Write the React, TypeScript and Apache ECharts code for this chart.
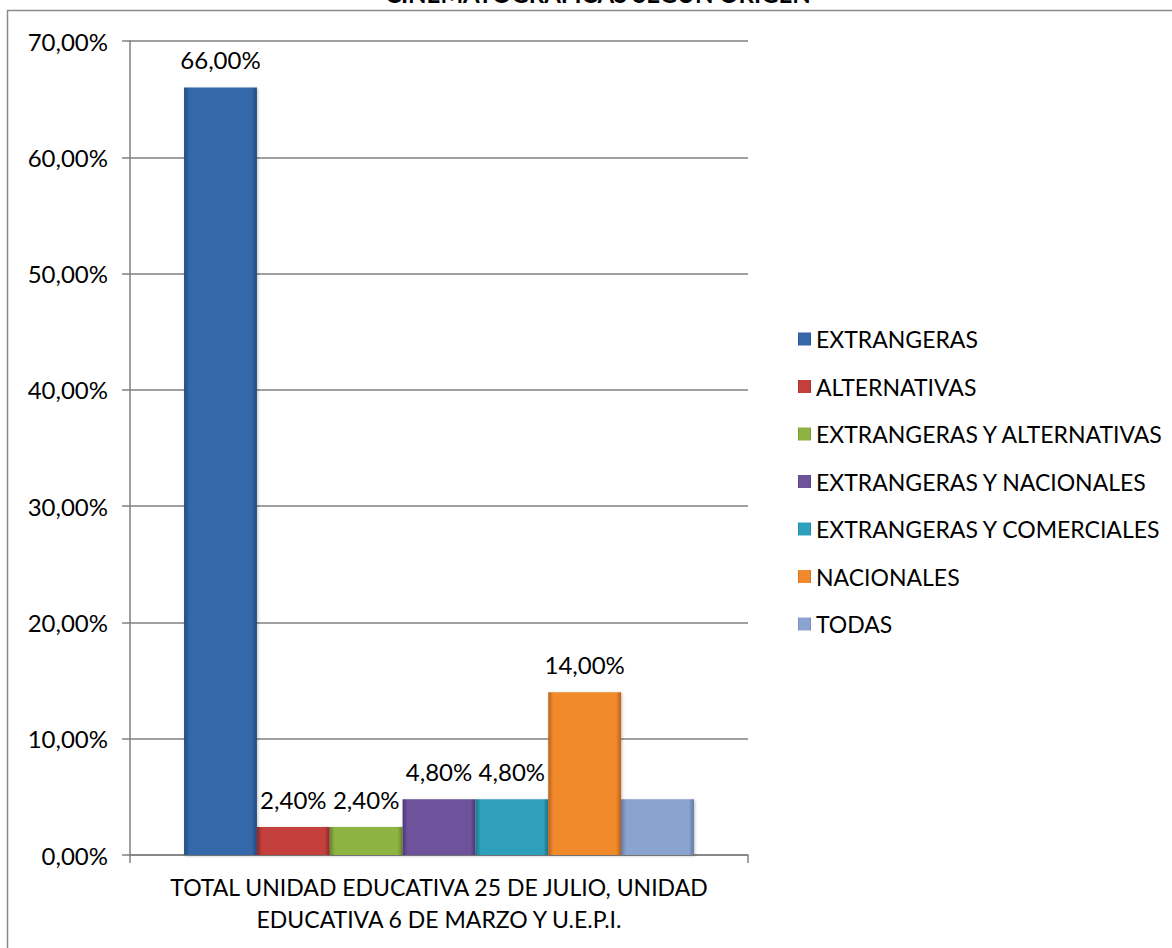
import React, { useEffect, useRef } from "react";
import * as echarts from "echarts";

const categories = ["TOTAL UNIDAD EDUCATIVA 25 DE JULIO, UNIDAD\nEDUCATIVA 6 DE MARZO Y U.E.P.I."];
const seriesNames = [
  "EXTRANGERAS",
  "ALTERNATIVAS",
  "EXTRANGERAS Y ALTERNATIVAS",
  "EXTRANGERAS Y NACIONALES",
  "EXTRANGERAS Y COMERCIALES",
  "NACIONALES",
  "TODAS",
];
const seriesValues = [66.0, 2.4, 2.4, 4.8, 4.8, 14.0, 4.8];
const showLabel = [true, true, true, true, true, true, false];
const baseColors = ["#3567A9", "#C33F3C", "#8DB443", "#6E539C", "#2FA0BC", "#F08A2C", "#8AA3CF"];
const edgeColors = ["#23497C", "#8E2725", "#65842B", "#4D3773", "#1E7389", "#B8611A", "#6279A3"];
const yTicks = [0, 10, 20, 30, 40, 50, 60, 70];
const titleText = "CINEMATOGRAFICAS SEGÚN ORIGEN";

const FONT = "Lato, 'Open Sans', sans-serif";
const fmt = (v: number) => v.toFixed(2).replace(".", ",") + "%";

export default function App() {
  const ref = useRef<HTMLDivElement>(null);
  useEffect(() => {
    if (!ref.current) return;
    const chart = echarts.init(ref.current, undefined, { renderer: "svg" });
    const series = seriesNames.map((name, i) => ({
      name,
      type: "bar",
      barGap: "0%",
      barCategoryGap: "17.5%",
      data: [seriesValues[i]],
      itemStyle: {
        color: new echarts.graphic.LinearGradient(0, 0, 1, 0, [
          { offset: 0, color: edgeColors[i] },
          { offset: 0.07, color: baseColors[i] },
          { offset: 0.93, color: baseColors[i] },
          { offset: 1, color: edgeColors[i] },
        ]),
        shadowColor: "rgba(0,0,0,0.25)",
        shadowBlur: 3,
        shadowOffsetX: 1,
        shadowOffsetY: 1,
      },
      label: {
        show: showLabel[i],
        position: "top",
        distance: 16,
        formatter: (p: any) => fmt(p.value),
        color: "#000",
        fontFamily: FONT,
        fontSize: 24,
      },
    }));
    chart.setOption({
      animation: false,
      backgroundColor: "#fff",
      grid: { left: 130, right: 424, top: 41, bottom: 93, containLabel: false },
      legend: {
        orient: "vertical",
        left: 793,
        top: 322,
        itemWidth: 13,
        itemHeight: 13,
        itemGap: 23.5,
        icon: "rect",
        textStyle: { fontFamily: FONT, fontSize: 23, color: "#000", lineHeight: 24 },
        data: seriesNames,
      },
      xAxis: {
        type: "category",
        data: categories,
        axisLine: { lineStyle: { color: "#808080", width: 1.5 } },
        axisTick: { show: true, length: 8, lineStyle: { color: "#808080", width: 1.5 } },
        axisLabel: {
          color: "#000",
          fontFamily: FONT,
          fontSize: 23,
          lineHeight: 32,
          margin: 16,
        },
      },
      yAxis: {
        type: "value",
        min: 0,
        max: 70,
        interval: 10,
        axisLine: { show: true, lineStyle: { color: "#808080", width: 1.5 } },
        axisTick: { show: true, length: 8, lineStyle: { color: "#808080", width: 1.5 } },
        splitLine: { lineStyle: { color: "#808080", width: 1.5 } },
        axisLabel: {
          color: "#000",
          fontFamily: FONT,
          fontSize: 24,
          margin: 22,
          formatter: (v: number) => (yTicks.includes(v) ? fmt(v) : ""),
        },
      },
      graphic: [
        {
          type: "rect",
          shape: { x: 7.5, y: 10.5, width: 1200, height: 1000 },
          style: { fill: "none", stroke: "#8a8a8a", lineWidth: 1.5 },
          silent: true,
          z: -1,
        },
        {
          type: "text",
          x: 598,
          y: 5,
          style: {
            text: titleText,
            fontFamily: FONT,
            fontWeight: "bold",
            fontSize: 24,
            fill: "#000",
            textAlign: "center",
            textVerticalAlign: "bottom",
          },
        },
      ],
      series,
    });
    return () => chart.dispose();
  }, []);
  return (
    <div
      ref={ref}
      style={{ position: "absolute", left: 0, top: 0, width: 1172, height: 948 }}
    />
  );
}
